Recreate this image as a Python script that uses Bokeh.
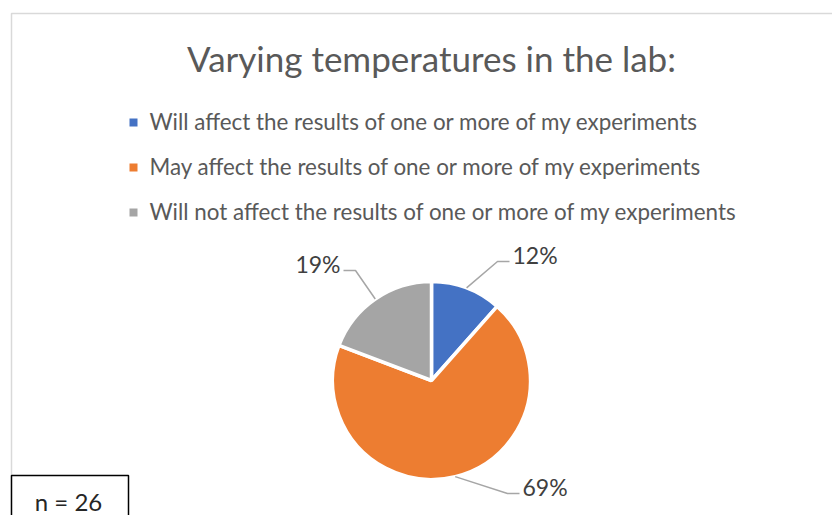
import math
from bokeh.plotting import figure
from bokeh.models import Range1d
from bokeh.core.properties import value
from bokeh.embed import file_html
from bokeh.resources import INLINE

# ---- data ----
title_text = "Varying temperatures in the lab:"
categories = [
    "Will affect the results of one or more of my experiments",
    "May affect the results of one or more of my experiments",
    "Will not affect the results of one or more of my experiments",
]
counts = [3, 18, 5]
colors = ["#4472C4", "#ED7D31", "#A5A5A5"]
n_text = "n = 26"

# ---- layout (screen pixel helpers) ----
W, H = 832, 515
FONT = "Lato"


def X(sx):
    return sx


def Y(sy):
    return H - sy


p = figure(width=W, height=H, output_backend="svg", toolbar_location=None,
           x_range=Range1d(0, W), y_range=Range1d(0, H), min_border=0)
p.axis.visible = False
p.grid.visible = False
p.outline_line_color = None
p.background_fill_color = "white"
p.border_fill_color = "white"

# chart border
p.quad(left=[X(11)], right=[X(900)], top=[Y(13)], bottom=[Y(600)],
       fill_color=None, line_color="#D9D9D9", line_width=1.5)

# title
p.text(x=[X(431)], y=[Y(57)], text=[title_text], text_font=value(FONT),
       text_font_size="35px", text_color="#595959", text_align="center",
       text_baseline="middle")

# legend
leg_mark_y = [122, 167, 212]
leg_text_y = [121, 165.5, 210.5]
for i, lab in enumerate(categories):
    p.scatter(x=[X(133)], y=[Y(leg_mark_y[i])], marker="square", size=8,
              fill_color=colors[i], line_color=None)
    p.text(x=[X(149)], y=[Y(leg_text_y[i])], text=[lab], text_font=value(FONT),
           text_font_size="22.4px", text_color="#595959", text_align="left",
           text_baseline="middle")

# pie
cx, cy, R = X(431), Y(380), 99
total = sum(counts)
fracs = [c / total for c in counts]
starts, ends = [], []
acc = 0.0
for f in fracs:
    starts.append(math.pi / 2 - acc * 2 * math.pi)
    acc += f
    ends.append(math.pi / 2 - acc * 2 * math.pi)
p.wedge(x=[cx] * 3, y=[cy] * 3, radius=R, start_angle=starts, end_angle=ends,
        direction="clock", fill_color=colors, line_color="white", line_width=3.5)

# data labels with leader lines
elbow_offsets = [(66, -119), (76, 113), (-76, -110)]  # screen px offset from centre
for i, f in enumerate(fracs):
    mid = (starts[i] + ends[i]) / 2
    ex, ey = cx + R * math.cos(mid), cy + R * math.sin(mid)
    bx, by = cx + elbow_offsets[i][0], cy - elbow_offsets[i][1]
    side = 1 if elbow_offsets[i][0] > 0 else -1
    tx = bx + side * 12
    p.line(x=[ex, bx, tx], y=[ey, by, by], line_color="#A6A6A6", line_width=1.5)
    p.text(x=[tx + side * 3], y=[by + 6.5], text=["%d%%" % round(f * 100)],
           text_font=value(FONT), text_font_size="23px", text_color="#404040",
           text_align="left" if side > 0 else "right", text_baseline="middle")

# n box
p.quad(left=[X(11)], right=[X(128)], top=[Y(475)], bottom=[Y(600)],
       fill_color="white", line_color="black", line_width=1.5)
p.text(x=[X(68)], y=[Y(501)], text=[n_text], text_font=value(FONT),
       text_font_size="24px", text_color="#262626", text_align="center",
       text_baseline="middle")

open("out.html", "w").write(file_html(p, INLINE))
